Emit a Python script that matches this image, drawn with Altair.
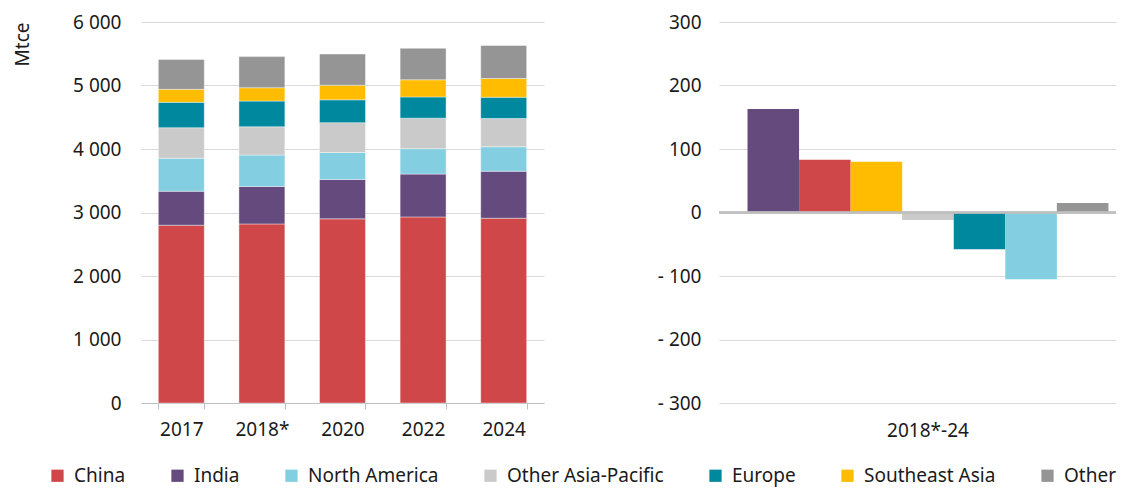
import altair as alt
import pandas as pd

years = ["2017", "2018*", "2020", "2022", "2024"]
regions = ["China", "India", "North America", "Other Asia-Pacific", "Europe", "Southeast Asia", "Other"]
colors = ["#D0474A", "#644A7D", "#83CEE1", "#CACACA", "#00889E", "#FFBC00", "#959595"]

china = [2800, 2820, 2900, 2930, 2910]
india = [535, 590, 620, 675, 740]
north_america = [520, 495, 425, 400, 385]
other_asia_pacific = [480, 445, 470, 480, 445]
europe = [400, 405, 360, 335, 335]
southeast_asia = [205, 210, 230, 270, 295]
other = [470, 490, 490, 495, 520]

change_period = "2018*-24"
change_regions = ["India", "China", "Southeast Asia", "Other Asia-Pacific", "Europe", "North America", "Other"]
change_values = [163, 83, 80, -12, -58, -105, 15]

left_ticks = [0, 1000, 2000, 3000, 4000, 5000, 6000]
right_ticks = [-300, -200, -100, 0, 100, 200, 300]

series = {
    "China": china,
    "India": india,
    "North America": north_america,
    "Other Asia-Pacific": other_asia_pacific,
    "Europe": europe,
    "Southeast Asia": southeast_asia,
    "Other": other,
}
rows = []
for i, r in enumerate(regions):
    for y, v in zip(years, series[r]):
        rows.append({"year": y, "region": r, "value": v, "order": i})
df = pd.DataFrame(rows)
df2 = pd.DataFrame({"period": [change_period] * len(change_regions),
                    "region": change_regions, "value": change_values})

FONT = "Noto Sans"
TXT = "#1a1a1a"
GRID = "#D9D9D9"
AX = "#BFBFBF"

color_scale = alt.Scale(domain=regions, range=colors)
legend = alt.Legend(
    title=None, orient="none", direction="horizontal", legendX=-93, legendY=444,
    symbolType="square", symbolSize=150, symbolStrokeWidth=0, labelFontSize=19,
    labelColor=TXT, columnPadding=42, labelOffset=7, labelLimit=300,
)

left = alt.Chart(df).mark_bar(stroke="white", strokeWidth=0.8, strokeOpacity=0.5).encode(
    x=alt.X("year:N", sort=years,
            scale=alt.Scale(paddingInner=0.43, paddingOuter=0.215),
            axis=alt.Axis(title=None, labelAngle=0, labelFontSize=19, labelColor=TXT,
                          labelPadding=11, domainColor=AX, tickColor=AX, tickSize=6,
                          tickBand="extent", grid=False)),
    y=alt.Y("value:Q", stack="zero",
            scale=alt.Scale(domain=[0, 6000], nice=False),
            axis=alt.Axis(title="Mtce", values=left_ticks,
                          labelExpr="replace(format(datum.value, ','), ',', ' ')",
                          domain=False, ticks=False, gridColor=GRID, labelPadding=20,
                          labelFontSize=19, labelColor=TXT, titleFontSize=19,
                          titleFontWeight="normal", titleColor=TXT, titleAnchor="end",
                          titlePadding=40)),
    color=alt.Color("region:N", scale=color_scale, legend=legend),
    order=alt.Order("order:Q"),
).properties(width=403, height=381)

right_bars = alt.Chart(df2).mark_bar().encode(
    x=alt.X("period:N",
            scale=alt.Scale(paddingOuter=0.04, align=0.79),
            axis=alt.Axis(title=None, labelAngle=0, labelFontSize=19, labelColor=TXT,
                          labelPadding=18, domain=False, ticks=False, grid=False)),
    xOffset=alt.XOffset("region:N", sort=change_regions,
                        scale=alt.Scale(paddingInner=0, paddingOuter=0)),
    y=alt.Y("value:Q", scale=alt.Scale(domain=[-300, 300], nice=False),
            axis=alt.Axis(title=None, values=right_ticks,
                          labelExpr="datum.value < 0 ? '- ' + format(-datum.value, 'd') : format(datum.value, 'd')",
                          domain=False, ticks=False, gridColor=GRID, labelPadding=18,
                          labelFontSize=19, labelColor=TXT)),
    color=alt.Color("region:N", scale=color_scale, legend=legend),
)
zero_line = alt.Chart(df2).mark_rule(color=AX, strokeWidth=1.5).encode(y=alt.datum(0))
right = alt.layer(right_bars, zero_line).properties(width=397, height=381)

chart = alt.hconcat(left, right, spacing=113).configure(
    font=FONT
).configure_view(stroke=None).properties(
    padding={"left": 5, "top": 5, "right": 0, "bottom": 3}
)

chart.save("out.html", embed_options={"renderer": "svg", "actions": False})
